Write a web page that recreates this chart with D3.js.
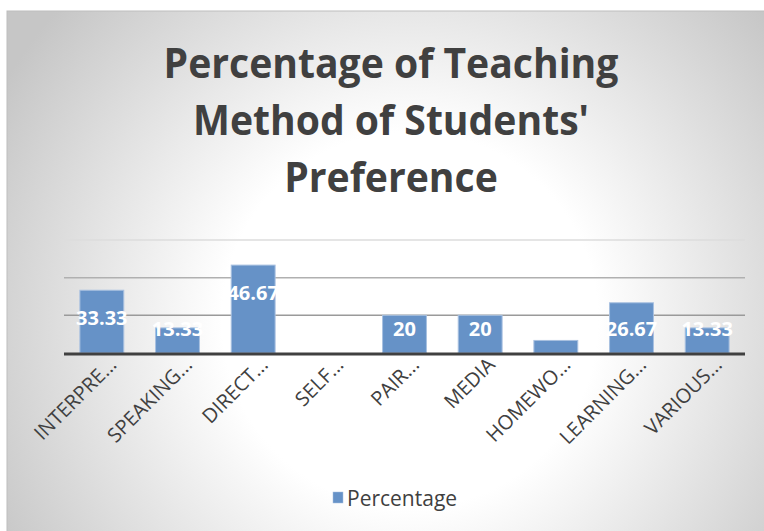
<!DOCTYPE html>
<html><head><meta charset="utf-8">
<script src="https://cdn.jsdelivr.net/npm/d3@7"></script>
<style>html,body{margin:0;padding:0;background:#fff;overflow:hidden}</style>
</head><body>
<svg id="chart" width="764" height="531"></svg>
<script>
const categories = ["INTERPRE...", "SPEAKING...", "DIRECT...", "SELF...", "PAIR...", "MEDIA", "HOMEWO...", "LEARNING...", "VARIOUS..."];
const percentage = [33.33, 13.33, 46.67, 0, 20, 20, 6.67, 26.67, 13.33];
const yTicks = [0, 20, 40, 60];
const titleLines = ["Percentage of Teaching", "Method of Students'", "Preference"];
const seriesName = "Percentage";

const svg = d3.select("#chart");
const defs = svg.append("defs");
const grad = defs.append("radialGradient").attr("id","bg")
  .attr("gradientUnits","userSpaceOnUse").attr("cx",410).attr("cy",320).attr("r",470);
grad.append("stop").attr("offset","0").attr("stop-color","#ffffff");
grad.append("stop").attr("offset","0.4").attr("stop-color","#ffffff");
grad.append("stop").attr("offset","1").attr("stop-color","#c6c6c6");

svg.append("rect").attr("x",7).attr("y",11).attr("width",770).attr("height",530)
  .attr("fill","url(#bg)").attr("stroke","#bdbdbd").attr("stroke-width",1);

// title
const cxT = 391;
const title = svg.append("g");
const baselines = [78, 135, 192];
titleLines.forEach((t,i)=>{
  title.append("text").attr("x",0).attr("y",baselines[i]).attr("text-anchor","middle")
    .attr("font-family","'Open Sans', sans-serif").attr("font-weight","bold")
    .attr("font-size",42).attr("fill","#404040").text(t);
});
const w0 = title.select("text").node().getComputedTextLength();
const sx = 455 / w0;
title.attr("transform", `translate(${cxT},0) scale(${sx},1)`);

const x = d3.scaleBand().domain(categories).range([64, 745]).paddingInner(0.42).paddingOuter(0.21);
const y = d3.scaleLinear().domain([0, 60]).range([353, 240]);

// gridlines
const gridColors = {20:"#9a9a9a", 40:"#b0b0b0", 60:"#dcdcdc"};
svg.append("g").selectAll("line").data(yTicks.filter(d=>d>0)).join("line")
  .attr("x1",64).attr("x2",745).attr("y1",d=>y(d)).attr("y2",d=>y(d))
  .attr("stroke",d=>gridColors[d]).attr("stroke-width",1.5);

// bars
svg.append("g").selectAll("rect").data(percentage).join("rect")
  .attr("x",(d,i)=>x(categories[i])).attr("width",x.bandwidth())
  .attr("y",d=>y(d)).attr("height",d=>y(0)-y(d))
  .attr("fill","#6692c7").attr("stroke","#a8c0e0").attr("stroke-width",1);

// baseline axis
svg.append("line").attr("x1",64).attr("x2",745).attr("y1",y(0)+1).attr("y2",y(0)+1)
  .attr("stroke","#404040").attr("stroke-width",3);

// data labels
svg.append("g").selectAll("text").data(percentage).join("text")
  .attr("x",(d,i)=>x(categories[i])+x.bandwidth()/2)
  .attr("y",d=>Math.min(y(d)+28, y(0)-24)+7)
  .attr("text-anchor","middle")
  .attr("font-family","'Open Sans', sans-serif").attr("font-weight","bold")
  .attr("font-size",20).attr("fill","#ffffff")
  .text(d=>String(d));

// category axis labels
svg.append("g").selectAll("text").data(categories).join("text")
  .attr("transform",d=>`translate(${x(d)+x.bandwidth()/2+16},${366}) rotate(-45)`)
  .attr("text-anchor","end")
  .attr("font-family","'Open Sans', sans-serif")
  .attr("font-size",20).attr("fill","#404040")
  .text(d=>d);

// legend
const lg = svg.append("g");
lg.append("rect").attr("x",333).attr("y",492).attr("width",10).attr("height",11)
  .attr("fill","#6692c7").attr("stroke","#a8c0e0").attr("stroke-width",0.5);
lg.append("text").attr("x",347).attr("y",506)
  .attr("font-family","'Open Sans', sans-serif").attr("font-size",21).attr("fill","#404040")
  .text(seriesName);
</script>
</body></html>
